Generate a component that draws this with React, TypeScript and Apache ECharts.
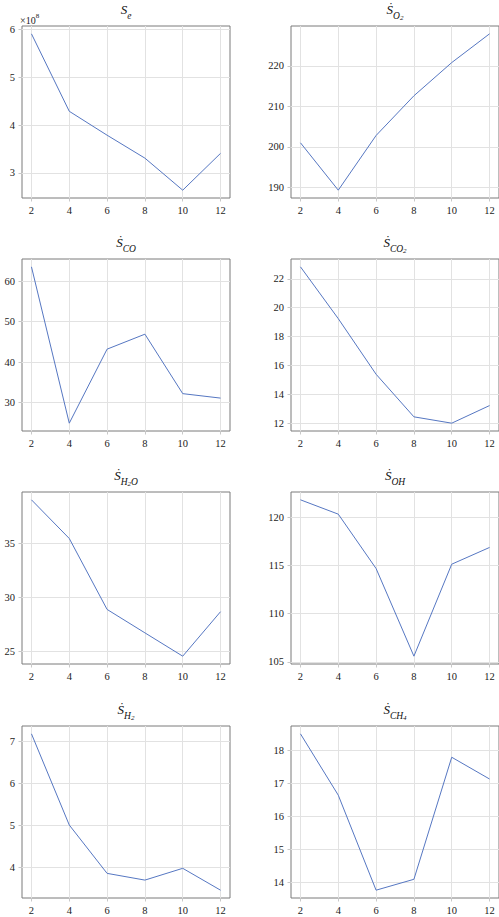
import React, { useEffect, useRef } from 'react';
import * as echarts from 'echarts';

const xValues = [2, 4, 6, 8, 10, 12];
const xTicks = [2, 4, 6, 8, 10, 12];

const seValues = [5.91e8, 4.29e8, 3.79e8, 3.31e8, 2.64e8, 3.41e8];
const sO2Values = [201.0, 189.3, 202.8, 212.6, 220.8, 227.9];
const sCOValues = [63.55, 24.9, 43.2, 46.9, 32.2, 31.1];
const sCO2Values = [22.83, 19.24, 15.39, 12.44, 12.0, 13.22];
const sH2OValues = [39.02, 35.44, 28.87, 26.7, 24.54, 28.66];
const sOHValues = [121.83, 120.34, 114.69, 105.58, 115.14, 116.88];
const sH2Values = [7.18, 5.01, 3.86, 3.7, 3.98, 3.46];
const sCH4Values = [18.51, 16.65, 13.77, 14.1, 17.8, 17.14];

const seTicks = [3e8, 4e8, 5e8, 6e8];
const sO2Ticks = [190, 200, 210, 220];
const sCOTicks = [30, 40, 50, 60];
const sCO2Ticks = [12, 14, 16, 18, 20, 22];
const sH2OTicks = [25, 30, 35];
const sOHTicks = [105, 110, 115, 120];
const sH2Ticks = [4, 5, 6, 7];
const sCH4Ticks = [14, 15, 16, 17, 18];

const titles = [
  '{m|S}{s|e}',
  '{m|Ṡ}{s|O}{ss|2}',
  '{m|Ṡ}{s|CO}',
  '{m|Ṡ}{s|CO}{ss|2}',
  '{m|Ṡ}{s|H}{ss|2}{s|O}',
  '{m|Ṡ}{s|OH}',
  '{m|Ṡ}{s|H}{ss|2}',
  '{m|Ṡ}{s|CH}{ss|4}',
];

const panels = [
  { data: seValues, ticks: seTicks, scale: 1e8 },
  { data: sO2Values, ticks: sO2Ticks, scale: 1 },
  { data: sCOValues, ticks: sCOTicks, scale: 1 },
  { data: sCO2Values, ticks: sCO2Ticks, scale: 1 },
  { data: sH2OValues, ticks: sH2OTicks, scale: 1 },
  { data: sOHValues, ticks: sOHTicks, scale: 1 },
  { data: sH2Values, ticks: sH2Ticks, scale: 1 },
  { data: sCH4Values, ticks: sCH4Ticks, scale: 1 },
];

const FONT = "'Liberation Serif', 'Times New Roman', serif";
const colLefts = [22, 291];
const rowTops = [26, 259, 492, 726];
const gridW = 208;
const gridH = 172;

export default function App() {
  const ref = useRef<HTMLDivElement>(null);
  useEffect(() => {
    const chart = echarts.init(ref.current!, undefined, { renderer: 'svg' });
    const grids: any[] = [];
    const xAxes: any[] = [];
    const yAxes: any[] = [];
    const series: any[] = [];
    const titleItems: any[] = [];
    const rich = {
      m: { fontFamily: FONT, fontStyle: 'italic', fontWeight: 'normal', fontSize: 13, lineHeight: 18, verticalAlign: 'top', color: '#111' },
      s: { fontFamily: FONT, fontStyle: 'italic', fontWeight: 'normal', fontSize: 9.5, lineHeight: 9, verticalAlign: 'bottom', color: '#111' },
      ss: { fontFamily: FONT, fontWeight: 'normal', fontSize: 7, lineHeight: 6, verticalAlign: 'bottom', color: '#111' },
    };
    const labelRich = {
      f: { fontFamily: FONT, fontSize: 10.5, fontWeight: 'normal', fontStyle: 'normal', color: '#222', lineHeight: 12 },
    };
    panels.forEach((p, i) => {
      const col = i % 2;
      const row = Math.floor(i / 2);
      const left = colLefts[col];
      const top = rowTops[row];
      grids.push({
        left, top, width: gridW, height: gridH,
        show: true, borderColor: '#7a7a7a', borderWidth: 1, backgroundColor: 'transparent',
      });
      const lo = Math.min(...p.data);
      const hi = Math.max(...p.data);
      const pad = (hi - lo) * 0.05;
      xAxes.push({
        type: 'value', gridIndex: i, min: 1.5, max: 12.5,
        axisLine: { show: false },
        axisTick: { show: true, length: 3.5, customValues: xTicks, lineStyle: { color: '#c8c8c8', width: 1 } },
        axisLabel: {
          customValues: xTicks, margin: 6, fontFamily: FONT, fontSize: 10.5, color: '#222', rich: labelRich,
          formatter: (v: number) => `{f|${v}}`,
        },
        splitLine: { show: true, lineStyle: { color: '#e2e2e2', width: 1 } },
      });
      yAxes.push({
        type: 'value', gridIndex: i, min: lo - pad, max: hi + pad,
        axisLine: { show: false },
        axisTick: { show: true, length: 3.5, customValues: p.ticks, lineStyle: { color: '#c8c8c8', width: 1 } },
        axisLabel: {
          customValues: p.ticks, margin: 7, fontFamily: FONT, fontSize: 10.5, color: '#222', rich: labelRich,
          formatter: (v: number) => `{f|${Math.round((v / p.scale) * 100) / 100}}`,
        },
        splitLine: { show: true, lineStyle: { color: '#e2e2e2', width: 1 } },
      });
      series.push({
        type: 'line', xAxisIndex: i, yAxisIndex: i,
        data: xValues.map((x, k) => [x, p.data[k]]),
        showSymbol: false, symbol: 'none',
        lineStyle: { color: '#5677c2', width: 1 },
        silent: true,
      });
      titleItems.push({
        text: titles[i],
        left: left + gridW / 2, top: top - 23, textAlign: 'center', padding: 0,
        textStyle: { fontFamily: FONT, fontWeight: 'normal', fontStyle: 'italic', fontSize: 13, rich },
      });
    });
    titleItems.push({
      text: '{a|×10}{p|8}',
      left: 20, top: 12, padding: 0,
      textStyle: {
        fontFamily: FONT, fontWeight: 'normal', fontSize: 10,
        rich: {
          a: { fontFamily: FONT, fontWeight: 'normal', fontSize: 10, lineHeight: 13, verticalAlign: 'bottom', color: '#222' },
          p: { fontFamily: FONT, fontWeight: 'normal', fontSize: 7, lineHeight: 7, verticalAlign: 'top', color: '#222' },
        },
      },
    });
    chart.setOption({
      animation: false,
      backgroundColor: '#ffffff',
      textStyle: { fontFamily: FONT },
      title: titleItems,
      grid: grids,
      xAxis: xAxes,
      yAxis: yAxes,
      series,
    });
    return () => chart.dispose();
  }, []);
  return (
    <div
      ref={ref}
      style={{ position: 'absolute', left: 0, top: 0, width: 499, height: 917, background: '#fff' }}
    />
  );
}
